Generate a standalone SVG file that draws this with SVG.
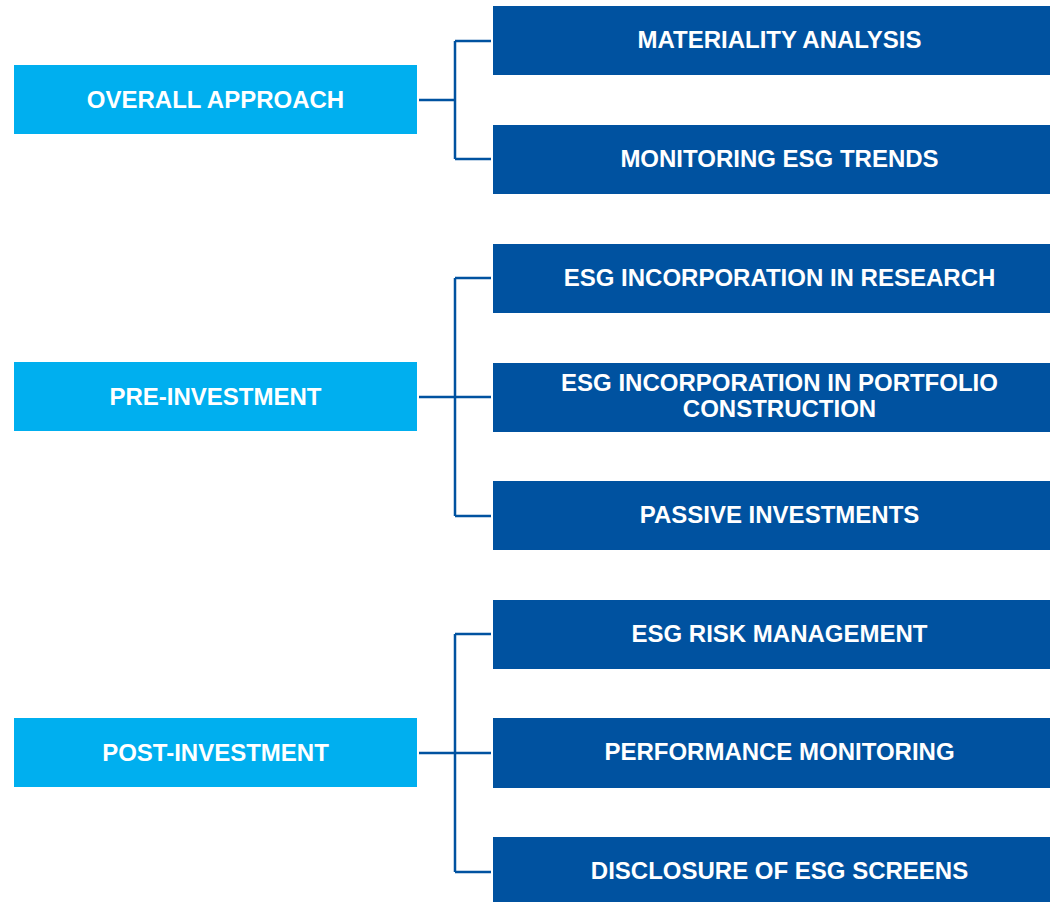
<svg xmlns="http://www.w3.org/2000/svg" width="1050" height="902" viewBox="0 0 1050 902">
<style>
.cat{fill:#00AFEF}
.item{fill:#0052A0}
.t{font-family:"Liberation Sans",Arial,sans-serif;font-weight:bold;font-size:24px;fill:#FFFFFF;text-anchor:middle}
.c{fill:none;stroke:#0052A0;stroke-width:2.5}
</style>
<rect width="1050" height="902" fill="#FFFFFF"/>
<g id="connectors">
<path class="c" d="M419 100H455M455 41V159M455 41H491M455 159H491"/>
<path class="c" d="M419 397H491M455 278V516M455 278H491M455 516H491"/>
<path class="c" d="M419 753H491M455 634V872M455 634H491M455 872H491"/>
</g>
<g id="overall-approach"><rect class="cat" x="14" y="65" width="403" height="69"/><text class="t" x="215.5" y="107.5">OVERALL APPROACH</text></g>
<g id="pre-investment"><rect class="cat" x="14" y="362" width="403" height="69"/><text class="t" x="215.5" y="404.5">PRE-INVESTMENT</text></g>
<g id="post-investment"><rect class="cat" x="14" y="718" width="403" height="69"/><text class="t" x="215.5" y="760.5">POST-INVESTMENT</text></g>
<g id="materiality-analysis"><rect class="item" x="493" y="6" width="573" height="69"/><text class="t" x="779.5" y="48">MATERIALITY ANALYSIS</text></g>
<g id="monitoring-esg-trends"><rect class="item" x="493" y="125" width="573" height="69"/><text class="t" x="779.5" y="167">MONITORING ESG TRENDS</text></g>
<g id="esg-research"><rect class="item" x="493" y="244" width="573" height="69"/><text class="t" x="779.5" y="286">ESG INCORPORATION IN RESEARCH</text></g>
<g id="esg-portfolio"><rect class="item" x="493" y="363" width="573" height="69"/><text class="t" x="779.5" y="391">ESG INCORPORATION IN PORTFOLIO</text><text class="t" x="779.5" y="417">CONSTRUCTION</text></g>
<g id="passive-investments"><rect class="item" x="493" y="481" width="573" height="69"/><text class="t" x="779.5" y="523">PASSIVE INVESTMENTS</text></g>
<g id="esg-risk-management"><rect class="item" x="493" y="600" width="573" height="69"/><text class="t" x="779.5" y="642">ESG RISK MANAGEMENT</text></g>
<g id="performance-monitoring"><rect class="item" x="493" y="718" width="573" height="70"/><text class="t" x="779.5" y="760">PERFORMANCE MONITORING</text></g>
<g id="disclosure-esg-screens"><rect class="item" x="493" y="837" width="573" height="70"/><text class="t" x="779.5" y="879">DISCLOSURE OF ESG SCREENS</text></g>
</svg>
